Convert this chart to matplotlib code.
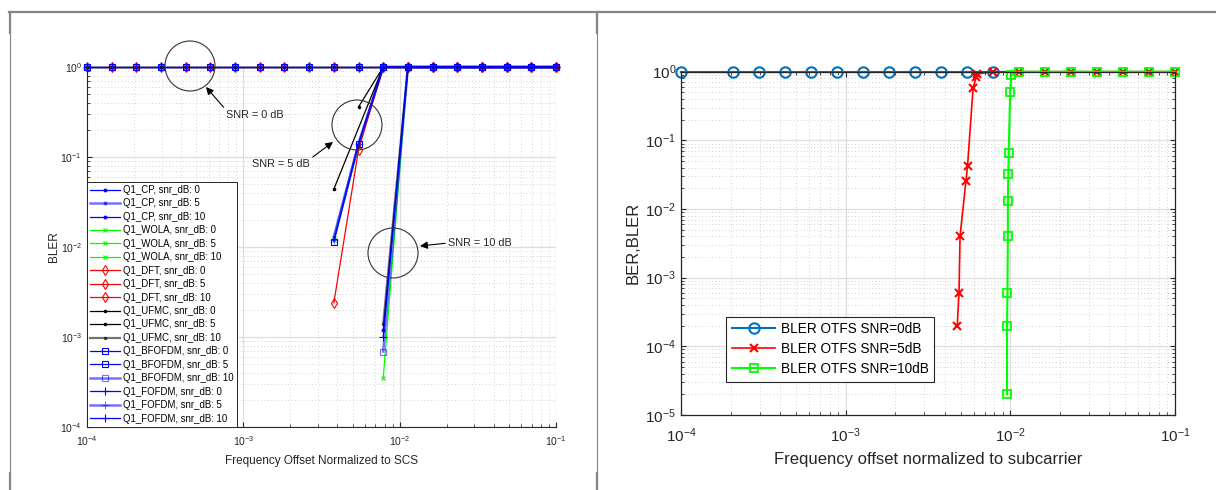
import numpy as np
import matplotlib.pyplot as plt
from matplotlib.lines import Line2D
from matplotlib.patches import Ellipse

plt.rcParams['font.family'] = ['Liberation Sans', 'DejaVu Sans']
plt.rcParams['mathtext.fontset'] = 'custom'
plt.rcParams['mathtext.rm'] = 'Liberation Sans'

nan = np.nan  # BLER = 0 -> nothing drawn on the log axis

# frequency offset grid (normalized)
foff = [1.000e-4, 1.438e-4, 2.069e-4, 2.976e-4, 4.281e-4, 6.158e-4, 8.859e-4,
        1.274e-3, 1.833e-3, 2.637e-3, 3.793e-3, 5.456e-3, 7.848e-3,
        1.129e-2, 1.624e-2, 2.336e-2, 3.360e-2, 4.833e-2, 6.952e-2, 1.000e-1]

# ---- left figure: waveforms, BLER vs offset ----
bler_0 = [1, 1, 1, 1, 1, 1, 1, 1, 1, 1, 1, 1, 1, 1, 1, 1, 1, 1, 1, 1]

cp_5 = [nan, nan, nan, nan, nan, nan, nan, nan, nan, nan, 0.013, 0.14, 1, 1, 1, 1, 1, 1, 1, 1]
wola_5 = [nan, nan, nan, nan, nan, nan, nan, nan, nan, nan, 0.012, 0.13, 1, 1, 1, 1, 1, 1, 1, 1]
dft_5 = [nan, nan, nan, nan, nan, nan, nan, nan, nan, nan, 0.0024, 0.12, 1, 1, 1, 1, 1, 1, 1, 1]
bfofdm_5 = [nan, nan, nan, nan, nan, nan, nan, nan, nan, nan, 0.0115, 0.14, 1, 1, 1, 1, 1, 1, 1, 1]
fofdm_5 = [nan, nan, nan, nan, nan, nan, nan, nan, nan, nan, 0.012, 0.14, 1, 1, 1, 1, 1, 1, 1, 1]
ufmc_5_x = [5.456e-3, 7.848e-3, 3.793e-3]
ufmc_5 = [0.36, 1, 0.044]

cp_10 = [nan, nan, nan, nan, nan, nan, nan, nan, nan, nan, nan, nan, 1.2e-3, 1, 1, 1, 1, 1, 1, 1]
wola_10 = [nan, nan, nan, nan, nan, nan, nan, nan, nan, nan, nan, nan, 3.5e-4, 1, 1, 1, 1, 1, 1, 1]
dft_10 = [nan, nan, nan, nan, nan, nan, nan, nan, nan, nan, nan, nan, nan, 1, 1, 1, 1, 1, 1, 1]
ufmc_10 = [nan, nan, nan, nan, nan, nan, nan, nan, nan, nan, nan, nan, 1.4e-3, 1, 1, 1, 1, 1, 1, 1]
bfofdm_10 = [nan, nan, nan, nan, nan, nan, nan, nan, nan, nan, nan, nan, 6.9e-4, 1, 1, 1, 1, 1, 1, 1]
fofdm_10 = [nan, nan, nan, nan, nan, nan, nan, nan, nan, nan, nan, nan, 1.0e-3, 1, 1, 1, 1, 1, 1, 1]

# ---- right figure: OTFS ----
otfs0_x = [1.000e-4, 2.069e-4, 2.976e-4, 4.281e-4, 6.158e-4, 8.859e-4,
           1.274e-3, 1.833e-3, 2.637e-3, 3.793e-3, 5.456e-3, 7.848e-3]
otfs0_y = [1, 1, 1, 1, 1, 1, 1, 1, 1, 1, 1, 1]
otfs5_x = [4.76e-3, 4.88e-3, 4.95e-3, 5.38e-3, 5.50e-3, 5.94e-3, 6.20e-3, 6.30e-3,
           7.848e-3, 1.129e-2, 1.624e-2, 2.336e-2, 3.360e-2, 4.833e-2, 6.952e-2, 1.000e-1]
otfs5_y = [2e-4, 6e-4, 4e-3, 0.026, 0.043, 0.58, 0.83, 0.93,
           1, 1, 1, 1, 1, 1, 1, 1]
otfs10_x = [9.55e-3, 9.55e-3, 9.60e-3, 9.66e-3, 9.66e-3, 9.72e-3, 9.77e-3, 9.98e-3, 1.014e-2,
            1.129e-2, 1.624e-2, 2.336e-2, 3.360e-2, 4.833e-2, 6.952e-2, 1.000e-1]
otfs10_y = [2e-5, 2e-4, 5.9e-4, 4e-3, 0.013, 0.032, 0.066, 0.51, 0.9,
            1, 1, 1, 1, 1, 1, 1]

W, H = 1216, 490


def fbox(x0, y0, x1, y1):
    return [x0 / W, 1 - y1 / H, (x1 - x0) / W, (y1 - y0) / H]


def fp(x, y):
    return (x / W, 1 - y / H)


def matlab_grid(ax, tick_size, xpad):
    ax.set_xscale('log')
    ax.set_yscale('log')
    ax.grid(True, which='major', color='#dedede', lw=0.9, ls='-')
    ax.grid(True, which='minor', color='#d2d2d2', lw=0.7, ls=(0, (1, 2.5)))
    ax.set_axisbelow(True)
    ax.tick_params(which='both', direction='in', labelsize=tick_size, color='#262626',
                   labelcolor='#262626')
    ax.tick_params(which='major', length=3.5)
    ax.tick_params(which='minor', length=2)
    ax.tick_params(axis='x', which='major', pad=xpad)


fig = plt.figure(figsize=(W / 100, H / 100), dpi=100)

# table cell borders
bc = '#858585'
fig.add_artist(Line2D([9 / W, 1], [1 - 12 / H, 1 - 12 / H], color=bc, lw=1.6))
for xb in (10, 597):
    fig.add_artist(Line2D([xb / W, xb / W], [1 - 12 / H, 0], color=bc, lw=0.8))
    fig.add_artist(Line2D([xb / W, xb / W], [1 - 12 / H, 1 - 33 / H], color=bc, lw=1.6))
    fig.add_artist(Line2D([xb / W, xb / W], [1 - 473 / H, 0], color=bc, lw=1.6))

# ---------------- left ----------------
ax1 = fig.add_axes(fbox(87, 67, 556, 427))
matlab_grid(ax1, 7.5, 5)

blue, green, red = (0, 0, 1), (0, 1, 0), (1, 0, 0)
light = dict(lw=1.8, alpha=0.55)
norm = dict(lw=0.9)
schemes = [
    ('Q1_CP', blue, '.', 4, [bler_0, cp_5, cp_10], [norm, light, norm]),
    ('Q1_WOLA', green, 'x', 3.5, [bler_0, wola_5, wola_10], [norm, norm, norm]),
    ('Q1_DFT', red, 'd', 5, [bler_0, dft_5, dft_10], [norm, norm, norm]),
    ('Q1_UFMC', 'k', '.', 3.5, [bler_0, None, ufmc_10], [norm, norm, dict(lw=1.6, alpha=0.55)]),
    ('Q1_BFOFDM', blue, 's', 4, [bler_0, bfofdm_5, bfofdm_10], [norm, norm, light]),
    ('Q1_FOFDM', blue, '+', 6, [bler_0, fofdm_5, fofdm_10], [norm, light, norm]),
]
snrs = [0, 5, 10]
for name, col, mk, ms, ys, styles in schemes:
    for snr, y, st in zip(snrs, ys, styles):
        if y is None:
            xx, yy = ufmc_5_x, ufmc_5
        else:
            xx, yy = foff, y
        ax1.plot(xx, yy, color=col, marker=mk, ms=ms, mfc='none' if mk in 'ds' else col,
                 mew=0.8, label=f'{name}, snr_dB: {snr}', clip_on=False, **st)

ax1.set_xlim(1e-4, 1e-1)
ax1.set_ylim(1e-4, 1)
for s in ('top', 'right'):
    ax1.spines[s].set_visible(False)
for s in ('left', 'bottom'):
    ax1.spines[s].set_color('#262626')
    ax1.spines[s].set_linewidth(0.8)
ax1.tick_params(which='both', top=False, right=False)
ax1.set_xlabel('Frequency Offset Normalized to SCS', fontsize=8.5, color='#262626', labelpad=5)
ax1.set_ylabel('BLER', fontsize=8.5, color='#262626', labelpad=0)
leg1 = ax1.legend(loc='lower left', bbox_to_anchor=(0, 0), borderaxespad=0, fontsize=6.9,
                  labelspacing=0.36, handlelength=3.1, handletextpad=0.3,
                  borderpad=0.35, fancybox=False, framealpha=1)
leg1.get_frame().set_edgecolor('#262626')
leg1.get_frame().set_linewidth(0.7)

# circles + arrows (figure annotations)
for cx, cy in [(190, 66), (357, 125), (393, 253)]:
    fig.add_artist(Ellipse(fp(cx, cy), 50 / W, 50 / H, transform=fig.transFigure,
                           fill=False, ec='#333333', lw=0.8))
arrow = dict(arrowstyle='-|>', color='k', lw=0.8, mutation_scale=11, shrinkA=0, shrinkB=0)
ax1.annotate('SNR = 0 dB', xy=fp(206, 87), xycoords='figure fraction',
             xytext=fp(226, 115), textcoords='figure fraction',
             ha='left', va='center', fontsize=7.8, color='#262626',
             arrowprops=dict(arrow, relpos=(0, 1)), annotation_clip=False)
ax1.annotate('SNR = 5 dB', xy=fp(333, 142), xycoords='figure fraction',
             xytext=fp(310, 164), textcoords='figure fraction',
             ha='right', va='center', fontsize=7.8, color='#262626',
             arrowprops=dict(arrow, relpos=(1, 1)), annotation_clip=False)
ax1.annotate('SNR = 10 dB', xy=fp(420, 246), xycoords='figure fraction',
             xytext=fp(448, 243), textcoords='figure fraction',
             ha='left', va='center', fontsize=7.8, color='#262626',
             arrowprops=dict(arrow, relpos=(0, 0.5)), annotation_clip=False)

# ---------------- right ----------------
ax2 = fig.add_axes(fbox(681, 71.7, 1175, 415))
matlab_grid(ax2, 11, 8)
ax2.tick_params(which='both', top=True, right=True)
ax2.plot(otfs0_x, otfs0_y, color='#0072BD', marker='o', ms=7.5, mfc='none', mew=1.5, lw=1.5,
         label='BLER OTFS SNR=0dB', clip_on=False)
ax2.plot(otfs5_x, otfs5_y, color='r', marker='x', ms=5.5, mew=1.5, lw=1.2,
         label='BLER OTFS SNR=5dB', clip_on=False)
ax2.plot(otfs10_x, otfs10_y, color='#00FF00', marker='s', ms=6, mfc='none', mew=1.3, lw=1.5,
         label='BLER OTFS SNR=10dB', clip_on=False)
ax2.set_xlim(1e-4, 1e-1)
ax2.set_ylim(1e-5, 1)
for s in ax2.spines.values():
    s.set_color('#262626')
    s.set_linewidth(0.9)
ax2.set_xlabel('Frequency offset normalized to subcarrier', fontsize=12, color='#262626',
               labelpad=5)
ax2.set_ylabel('BER,BLER', fontsize=12, color='#262626', labelpad=3)
leg2 = ax2.legend(loc='lower left', bbox_to_anchor=(0.092, 0.097), borderaxespad=0,
                  fontsize=9.8, labelspacing=0.45, handlelength=3.2, handletextpad=0.4,
                  borderpad=0.4, fancybox=False, framealpha=1)
leg2.get_frame().set_edgecolor('#262626')
leg2.get_frame().set_linewidth(0.8)

fig.savefig('out.png', dpi=100)
